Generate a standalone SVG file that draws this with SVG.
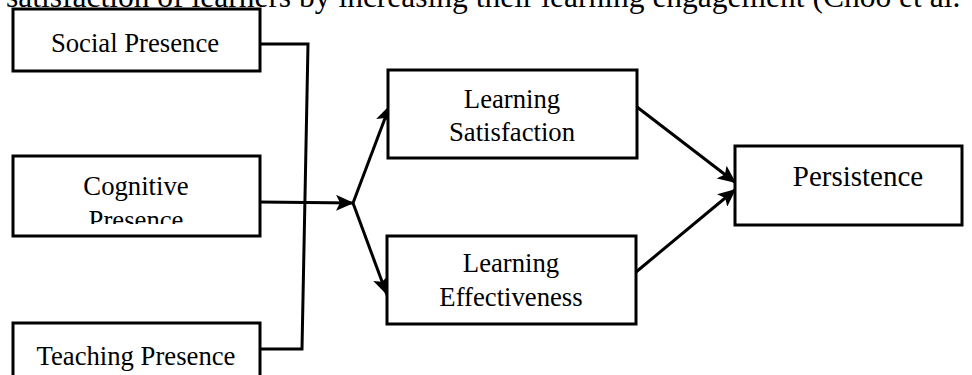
<svg xmlns="http://www.w3.org/2000/svg" width="972" height="375" viewBox="0 0 972 375">
  <style>
    .box { fill: #ffffff; stroke: #000000; stroke-width: 3; }
    .lbl { font-family: "Liberation Serif", "Times New Roman", serif; font-size: 26.7px; fill: #000000; text-anchor: middle; }
    .big { font-size: 29px; }
    .wire { fill: none; stroke: #000000; stroke-width: 3; stroke-linejoin: miter; }
    .head { fill: none; stroke: #000000; stroke-width: 3; marker-end: url(#tip); }
  </style>
  <defs>
    <marker id="tip" markerUnits="userSpaceOnUse" markerWidth="20" markerHeight="16" refX="18" refY="8" orient="auto">
      <path d="M0,0 L18,8 L0,16 L4,8 Z" fill="#000000"/>
    </marker>
    <clipPath id="cogClip">
      <rect x="0" y="150" width="270" height="74"/>
    </clipPath>
  </defs>

  <rect width="972" height="375" fill="#ffffff"/>

  <!-- running paragraph line cut by the page edge -->
  <text x="6" y="7" font-family="Liberation Serif, Times New Roman, serif" font-size="31.5" fill="#000000">satisfaction of learners by increasing their learning engagement (Choo et al.</text>

  <!-- connectors -->
  <g id="connectors">
    <path class="wire" d="M260,44 L308,44 L302,349 L259,349"/>
    <path class="head" d="M259,202 L354,203"/>
    <path class="head" d="M353,203 L390,105"/>
    <path class="head" d="M353,203 L387,295"/>
    <path class="head" d="M637,107 L736,183"/>
    <path class="head" d="M636,272 L736,189"/>
  </g>

  <g id="social-presence">
    <rect class="box" x="13" y="9" width="247" height="62"/>
    <text class="lbl" x="135" y="52">Social Presence</text>
  </g>

  <g id="cognitive-presence">
    <rect class="box" x="13" y="156" width="247" height="80"/>
    <g clip-path="url(#cogClip)">
      <text class="lbl" x="136" y="195">Cognitive</text>
      <text class="lbl" x="136" y="229">Presence</text>
    </g>
  </g>

  <g id="teaching-presence">
    <rect class="box" x="13" y="323" width="247" height="60"/>
    <text class="lbl" x="136" y="365">Teaching Presence</text>
  </g>

  <g id="learning-satisfaction">
    <rect class="box" x="388" y="70" width="249" height="88"/>
    <text class="lbl" x="512" y="108">Learning</text>
    <text class="lbl" x="512" y="141">Satisfaction</text>
  </g>

  <g id="learning-effectiveness">
    <rect class="box" x="387" y="236" width="249" height="88"/>
    <text class="lbl" x="511" y="272">Learning</text>
    <text class="lbl" x="511" y="306">Effectiveness</text>
  </g>

  <g id="persistence">
    <rect class="box" x="735" y="146" width="227" height="79"/>
    <text class="lbl big" x="858" y="186">Persistence</text>
  </g>
</svg>
